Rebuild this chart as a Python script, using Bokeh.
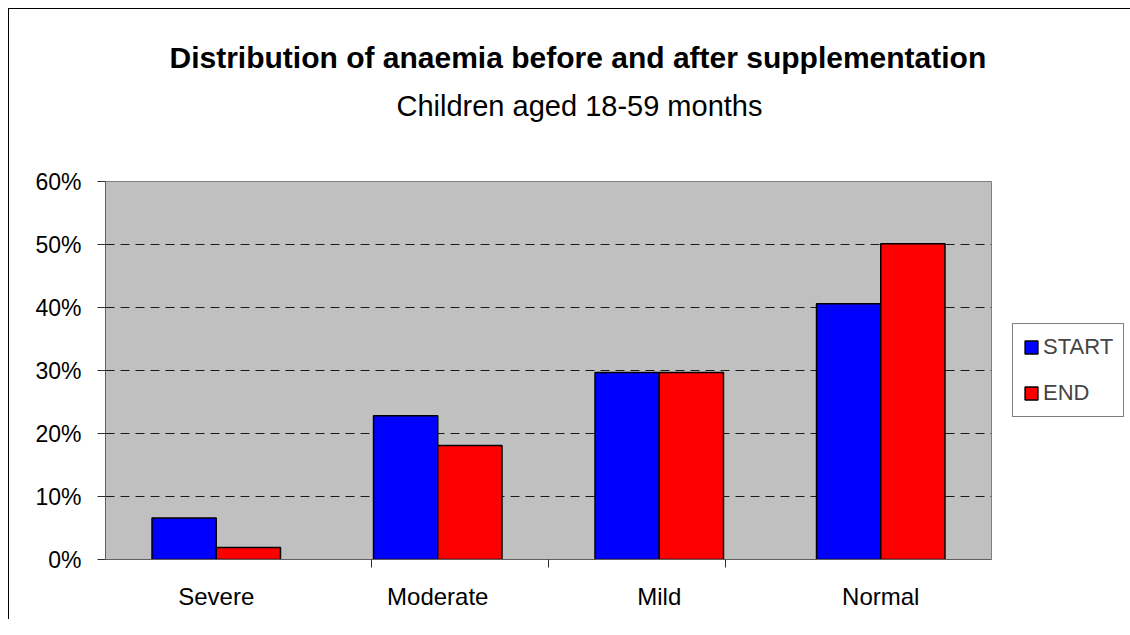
from bokeh.plotting import figure
from bokeh.models import (FactorRange, Range1d, NumeralTickFormatter, FixedTicker,
                          LinearAxis, CategoricalAxis, Legend, LegendItem, Title,
                          ColumnDataSource, Grid)
from bokeh.transform import dodge
from bokeh.embed import file_html
from bokeh.resources import INLINE

# ---- data ----
categories = ["Severe", "Moderate", "Mild", "Normal"]
series = ["START", "END"]
start_values = [0.066, 0.228, 0.297, 0.406]
end_values = [0.019, 0.181, 0.297, 0.501]
y_ticks = [0.0, 0.1, 0.2, 0.3, 0.4, 0.5, 0.6]
title_text = "Distribution of anaemia before and after supplementation"
subtitle_text = "Children aged 18-59 months"

# ---- styles ----
FONT = "Liberation Sans"
colors = ["#0000FF", "#FF0000"]

src = ColumnDataSource(dict(cat=categories, start=start_values, end=end_values))

p = figure(x_range=FactorRange(*categories), y_range=Range1d(0, 0.6),
           frame_width=886, frame_height=378,
           min_border_left=96, min_border_right=131, min_border_top=172, min_border_bottom=60,
           output_backend="svg", toolbar_location=None,
           x_axis_location=None, y_axis_location=None, title=None)
p.background_fill_color = "#C0C0C0"
p.border_fill_color = "white"
p.outline_line_color = "#808080"
p.outline_line_width = 1
p.styles = {"margin-left": "8px", "margin-top": "8px",
            "border-left": "1px solid black", "border-top": "1px solid black"}

# remove default grids
for g in list(p.xgrid) + list(p.ygrid):
    g.visible = False

# grid
grid = Grid(dimension=1, ticker=FixedTicker(ticks=[t for t in y_ticks[1:-1]]),
            grid_line_color="#1a1a1a", grid_line_dash="9 6", grid_line_width=1)
p.add_layout(grid, "center")

# y axis
yaxis = LinearAxis(ticker=FixedTicker(ticks=y_ticks),
                   formatter=NumeralTickFormatter(format="0%"),
                   axis_line_color="#606060", major_tick_line_color="#303030",
                   major_tick_in=0, major_tick_out=8, minor_tick_line_color=None,
                   major_label_standoff=16,
                   major_label_text_font=FONT, major_label_text_font_size="23px",
                   major_label_text_color="black")
p.add_layout(yaxis, "left")

# x axis: ticks on the boundaries between categories (a categorical range whose
# factor centres fall on those boundaries)
boundaries = [f"{a}|{b}" for a, b in zip(categories[:-1], categories[1:])]
p.extra_x_ranges = {"bounds": FactorRange(*boundaries, range_padding=1,
                                          range_padding_units="absolute")}
tick_axis = CategoricalAxis(x_range_name="bounds",
                            axis_line_color="#606060", major_tick_line_color="#303030",
                            major_tick_in=0, major_tick_out=8, minor_tick_line_color=None,
                            major_label_text_font_size="0px", major_label_text_color=None,
                            major_label_standoff=0)
p.add_layout(tick_axis, "below")

cat_axis = CategoricalAxis(axis_line_color=None, major_tick_line_color=None,
                           minor_tick_line_color=None, major_label_standoff=9,
                           major_label_text_font=FONT, major_label_text_font_size="24px",
                           major_label_text_color="black")
p.add_layout(cat_axis, "below")

# bars
r1 = p.vbar(x=dodge("cat", -0.145, range=p.x_range), top="start", width=0.29, source=src,
            fill_color=colors[0], line_color="black", line_width=1.5)
r2 = p.vbar(x=dodge("cat", 0.145, range=p.x_range), top="end", width=0.29, source=src,
            fill_color=colors[1], line_color="black", line_width=1.5)

legend = Legend(items=[LegendItem(label=series[0], renderers=[r1]),
                       LegendItem(label=series[1], renderers=[r2])],
                location="center_left", margin=21, padding=10, spacing=20,
                glyph_width=16, glyph_height=16, label_height=22, label_standoff=4,
                label_text_font=FONT, label_text_font_size="22px",
                border_line_color="black", border_line_width=1,
                background_fill_color="white", background_fill_alpha=1)
p.add_layout(legend, "right")

# titles (subtitle first: it sits closer to the frame)
p.add_layout(Title(text=subtitle_text, align="left", offset=291, standoff=119,
                   text_font=FONT, text_font_size="29px", text_font_style="normal",
                   text_color="black"), "above")
p.add_layout(Title(text=title_text, align="left", offset=64, standoff=-90,
                   text_font=FONT, text_font_size="30px", text_font_style="bold",
                   text_color="black"), "above")

open("out.html", "w").write(file_html(p, INLINE))
